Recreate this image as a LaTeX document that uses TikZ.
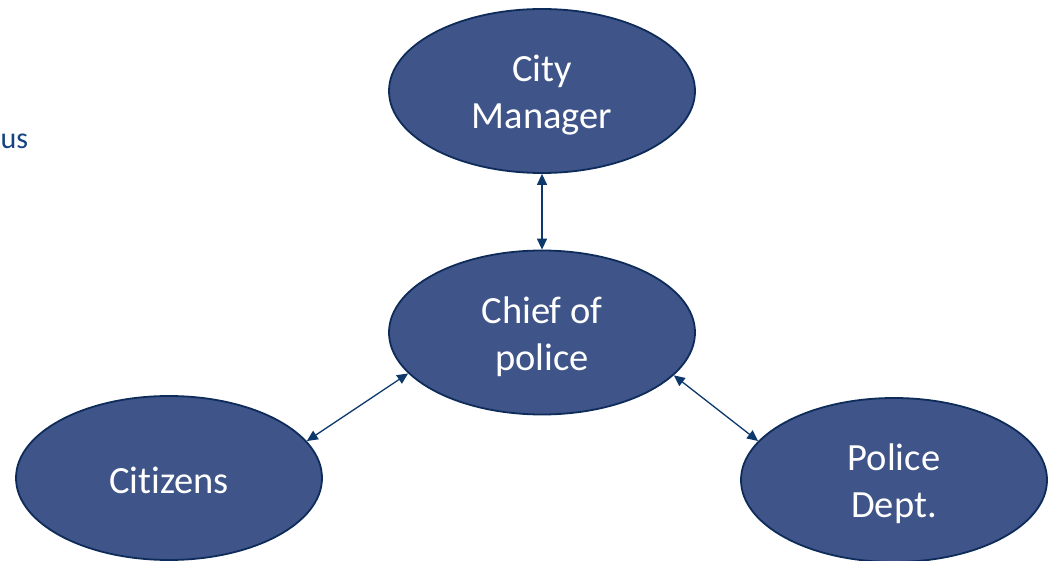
\documentclass[tikz,border=0pt]{standalone}
\usepackage{fontspec}
\setmainfont{Carlito}[Ligatures=NoCommon]
\usetikzlibrary{shapes.geometric,arrows.meta}
\definecolor{ellfill}{RGB}{63,84,136}
\definecolor{ellline}{RGB}{14,44,90}
\definecolor{arrcol}{RGB}{12,56,108}
\definecolor{txtblue}{RGB}{22,66,128}
\tikzset{
  bubble/.style={ellipse, draw=ellline, line width=1.8pt, fill=ellfill,
    minimum width=306pt, minimum height=164pt, inner sep=0pt},
  bubtext/.style={text=white, align=center, inner sep=0pt,
    font=\fontsize{38.5}{47}\selectfont},
  link/.style={draw=arrcol, line width=1.3pt,
    {Triangle[length=11pt,width=10pt]}-{Triangle[length=11pt,width=10pt]}},
  sidetext/.style={text=txtblue, font=\fontsize{30}{36}\selectfont, inner sep=0pt}
}
\begin{document}
\begin{tikzpicture}[x=1pt,y=-1pt]
\useasboundingbox (0,0) rectangle (1053,561);
\clip (0,0) rectangle (1053,561);
\fill[white] (0,0) rectangle (1053,561);
\node[sidetext, anchor=base west] (us) at (0.5,149) {us};
\node[bubble] (cm) at (542,91) {};
\node[bubble] (cp) at (542,332.5) {};
\node[bubble] (ci) at (169,478) {};
\node[bubble] (pd) at (894,480) {};
\node[bubtext] (cmt) at ([yshift=-4pt]cm.center) {City\\Manager};
\node[bubtext] (cpt) at ([yshift=-4.5pt]cp.center) {Chief of\\police};
\node[bubtext] (cit) at ([yshift=-2pt]ci.center) {Citizens};
\node[bubtext] (pdt) at ([yshift=-4pt]pd.center) {Police\\Dept.};
\draw[link] (cm.south) -- (cp.north);
\draw[link] (cp.197) -- (ci.15);
\draw[link] (cp.342) -- (pd.164);
\end{tikzpicture}
\end{document}
